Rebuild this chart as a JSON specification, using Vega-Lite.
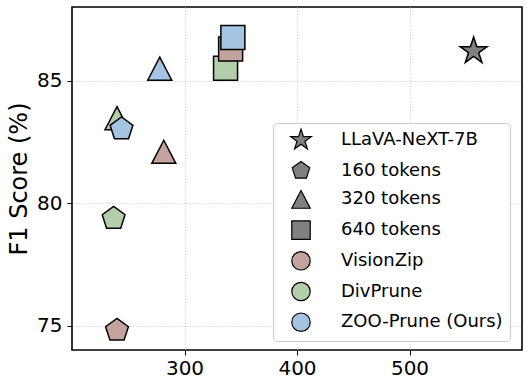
{
  "$schema": "https://vega.github.io/schema/vega-lite/v6.json",
  "width": 450,
  "height": 343,
  "autosize": {"type": "none"},
  "padding": {"left": 72, "top": 7, "right": 6, "bottom": 38},
  "background": "white",
  "config": {
    "font": "DejaVu Sans",
    "view": {"stroke": "black", "strokeWidth": 1.6},
    "axis": {
      "domain": false,
      "grid": true,
      "gridColor": "#cfcfcf",
      "gridDash": [1.5, 1.5],
      "gridWidth": 0.8,
      "tickColor": "black",
      "tickSize": 5,
      "tickWidth": 1,
      "labelFontSize": 20,
      "labelColor": "black",
      "labelFont": "DejaVu Sans",
      "titleFont": "DejaVu Sans",
      "titleColor": "black",
      "titleFontWeight": "normal"
    }
  },
  "data": {
    "values": [
      {"method": "DivPrune", "tokens": "160 tokens", "x": 237, "f1": 79.37},
      {"method": "DivPrune", "tokens": "320 tokens", "x": 240, "f1": 83.46},
      {"method": "DivPrune", "tokens": "640 tokens", "x": 336.5, "f1": 85.5},
      {"method": "VisionZip", "tokens": "160 tokens", "x": 240, "f1": 74.8},
      {"method": "VisionZip", "tokens": "320 tokens", "x": 281.6, "f1": 82.09},
      {"method": "VisionZip", "tokens": "640 tokens", "x": 341, "f1": 86.29},
      {"method": "ZOO-Prune (Ours)", "tokens": "160 tokens", "x": 244, "f1": 83.02},
      {"method": "ZOO-Prune (Ours)", "tokens": "320 tokens", "x": 278, "f1": 85.48},
      {"method": "ZOO-Prune (Ours)", "tokens": "640 tokens", "x": 343, "f1": 86.76},
      {"method": "LLaVA-NeXT-7B", "tokens": "LLaVA-NeXT-7B", "x": 557, "f1": 86.2}
    ]
  },
  "mark": {"type": "point", "filled": true, "opacity": 1, "stroke": "black", "strokeWidth": 1.5, "size": 576},
  "encoding": {
    "x": {
      "field": "x",
      "type": "quantitative",
      "scale": {"domain": [200, 600], "nice": false, "zero": false},
      "axis": {"values": [300, 400, 500], "title": null, "labelPadding": 3}
    },
    "y": {
      "field": "f1",
      "type": "quantitative",
      "scale": {"domain": [74, 88], "nice": false, "zero": false},
      "axis": {"values": [75, 80, 85], "title": "F1 Score (%)", "titleFontSize": 24, "titlePadding": 5, "labelPadding": 5}
    },
    "color": {
      "field": "method",
      "type": "nominal",
      "scale": {
        "domain": ["LLaVA-NeXT-7B", "160 tokens", "320 tokens", "640 tokens", "VisionZip", "DivPrune", "ZOO-Prune (Ours)"],
        "range": ["#808080", "#808080", "#808080", "#808080", "#c4a29e", "#b3cfaa", "#a4c4e4"]
      },
      "legend": {
        "title": null,
        "orient": "none",
        "legendX": 201,
        "legendY": 116,
        "padding": 7,
        "fillColor": "white",
        "strokeColor": "#cccccc",
        "cornerRadius": 4,
        "labelFontSize": 18,
        "labelFont": "DejaVu Sans",
        "labelColor": "black",
        "labelLimit": 400,
        "symbolSize": 340,
        "symbolStrokeColor": "black",
        "symbolStrokeWidth": 1.2,
        "symbolOffset": 11,
        "labelOffset": 30,
        "rowPadding": 6.7
      }
    },
    "shape": {
      "field": "tokens",
      "type": "nominal",
      "scale": {
        "domain": ["LLaVA-NeXT-7B", "160 tokens", "320 tokens", "640 tokens", "VisionZip", "DivPrune", "ZOO-Prune (Ours)"],
        "range": [
          "M0,-1.18L0.265,-0.365L1.122,-0.365L0.429,0.139L0.694,0.955L0,0.451L-0.694,0.955L-0.429,0.139L-1.122,-0.365L-0.265,-0.365Z",
          "M0,-1L0.951,-0.309L0.588,0.809L-0.588,0.809L-0.951,-0.309Z",
          "M0,-0.96L1,0.96L-1,0.96Z",
          "M-1,-1L1,-1L1,1L-1,1Z",
          "circle",
          "circle",
          "circle"
        ]
      },
      "legend": {
        "title": null,
        "orient": "none",
        "legendX": 201,
        "legendY": 116,
        "padding": 7,
        "fillColor": "white",
        "strokeColor": "#cccccc",
        "cornerRadius": 4,
        "labelFontSize": 18,
        "labelFont": "DejaVu Sans",
        "labelColor": "black",
        "labelLimit": 400,
        "symbolSize": 340,
        "symbolStrokeColor": "black",
        "symbolStrokeWidth": 1.2,
        "symbolOffset": 11,
        "labelOffset": 30,
        "rowPadding": 6.7
      }
    }
  }
}
